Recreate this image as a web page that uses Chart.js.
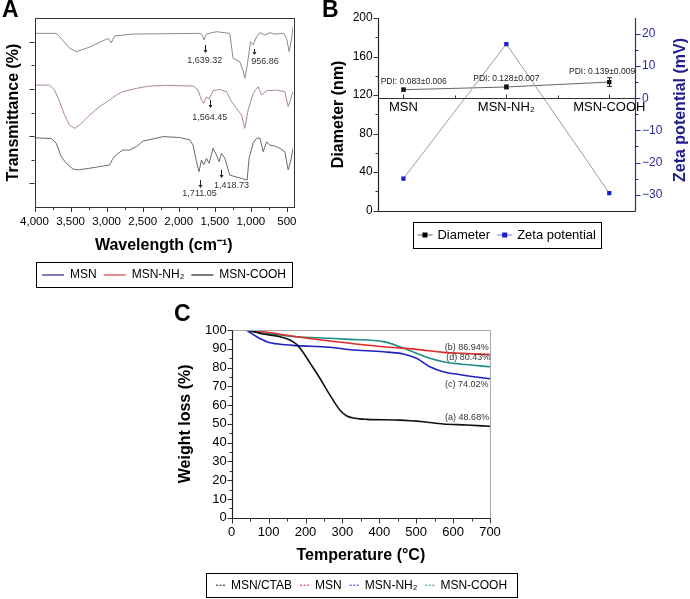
<!DOCTYPE html>
<html>
<head>
<meta charset="utf-8">
<script src="https://cdn.jsdelivr.net/npm/chart.js@4.4.1/dist/chart.umd.min.js"></script>
<style>
  html, body { margin: 0; padding: 0; background: #fff; }
  body { width: 690px; height: 599px; position: relative; overflow: hidden; font-family: "Liberation Sans", Arial, sans-serif; }
  canvas { position: absolute; }
  .tag { position: absolute; font: bold 23px "Liberation Sans", Arial, sans-serif; line-height: 1; }
</style>
</head>
<body>
<canvas id="chartA" width="310" height="300" style="left:0;top:0"></canvas>
<canvas id="chartB" width="370" height="300" style="left:320px;top:0"></canvas>
<canvas id="chartC" width="400" height="299" style="left:150px;top:300px"></canvas>
<div class="tag" style="left:2px;top:-2px">A</div>
<div class="tag" style="left:322px;top:-2px">B</div>
<div class="tag" style="left:174px;top:302px">C</div>
<script>
// Panel A : spectres IR (nombre d'onde / transmittance, unités arbitraires)
const msnWave = [4000, 3694, 3611, 3514, 3421, 3236, 3004, 2972, 2935, 2889, 2639, 1708, 1674, 1649, 1618, 1476, 1292, 1246, 1153, 1111, 1083, 1049, 1004, 968, 921, 875, 806, 736, 667, 542, 504, 468, 437, 416];
const msnT = [73.5, 73.5, 70.7, 67.3, 65.7, 67.7, 71.0, 71.3, 69.5, 72.4, 73.2, 73.5, 72.8, 70.7, 73.2, 74.2, 73.5, 62.9, 61.5, 58.0, 54.5, 60.1, 70.0, 68.6, 72.0, 73.8, 72.8, 73.8, 73.2, 73.5, 71.4, 65.7, 70.7, 76.3];
const nh2Wave = [4000, 3792, 3722, 3653, 3583, 3514, 3444, 3375, 3236, 3097, 2958, 2865, 2774, 2588, 2403, 2171, 1801, 1732, 1685, 1653, 1615, 1579, 1524, 1431, 1337, 1268, 1199, 1129, 1083, 1037, 968, 899, 851, 782, 643, 528, 482, 451, 416];
const nh2T = [51.6, 51.6, 49.5, 44.6, 38.9, 34.7, 33.3, 34.7, 38.9, 42.5, 45.3, 47.4, 48.8, 50.2, 51.2, 51.5, 51.2, 49.5, 45.3, 43.9, 46.7, 45.6, 49.2, 49.8, 48.8, 44.6, 41.8, 38.9, 33.3, 41.1, 48.1, 50.9, 47.4, 49.2, 49.5, 48.8, 42.5, 45.3, 48.8];
const coohWave = [4000, 3768, 3699, 3629, 3560, 3468, 3399, 3236, 3097, 2958, 2913, 2843, 2774, 2681, 2588, 2496, 2357, 2218, 1986, 1847, 1801, 1754, 1718, 1685, 1653, 1615, 1579, 1524, 1476, 1440, 1407, 1361, 1292, 1129, 1051, 1024, 968, 921, 875, 829, 782, 736, 667, 597, 528, 482, 444, 416];
const coohT = [29.3, 29.0, 27.0, 21.3, 18.5, 16.1, 15.7, 16.4, 17.1, 17.8, 20.6, 22.7, 24.1, 24.1, 25.5, 27.9, 28.8, 29.8, 29.4, 28.4, 26.2, 19.2, 14.9, 19.9, 17.8, 20.6, 18.5, 24.8, 22.0, 19.2, 22.7, 20.7, 13.5, 12.1, 11.4, 20.6, 27.0, 29.1, 29.2, 23.4, 27.6, 26.2, 25.8, 24.8, 23.4, 15.7, 19.9, 24.8];
const waveTicks = [4000, 3500, 3000, 2500, 2000, 1500, 1000, 500];
const peakLabels = ['1,639.32', '956.86', '1,564.45', '1,711.05', '1,418.73'];
const peakWave = [1639.32, 956.86, 1564.45, 1711.05, 1418.73];

// Panel B : diamètre et potentiel zêta
const bCategories = ['MSN', 'MSN-NH₂', 'MSN-COOH'];
const diameterNm = [125.6, 128.4, 133.5];
const diameterErr = [1.5, 2, 4.5];
const zetaMv = [-25.0, 16.9, -29.5];
const zetaTicks = [-30, -20, -10, 0, 10, 20];
const pdiLabels = ['PDI: 0.083±0.006', 'PDI: 0.128±0.007', 'PDI: 0.139±0.009'];

// Panel C : ATG
const ctabTemp = [40, 86, 131, 158, 176, 192, 207, 239, 266, 293, 312, 334, 366, 456, 519, 573, 637, 700];
const ctabWeight = [100, 97.9, 96.4, 94.7, 92.3, 88.5, 84.0, 74.3, 65.4, 57.4, 54.2, 53.0, 52.4, 52.0, 51.1, 49.9, 49.4, 48.7];
const msnTemp = [40, 86, 131, 176, 221, 266, 321, 411, 501, 573, 619, 700];
const msnWeight = [100, 99.1, 97.7, 96.4, 95.2, 94.1, 92.9, 91.1, 89.7, 88.1, 87.6, 86.9];
const nh2Temp = [40, 68, 95, 131, 176, 266, 321, 411, 465, 501, 537, 573, 619, 700];
const nh2Weight = [100, 96.4, 93.8, 92.4, 91.7, 90.8, 89.5, 88.4, 87.2, 84.9, 80.4, 77.8, 76.2, 74.0];
const coohTemp = [40, 86, 131, 176, 266, 321, 411, 456, 501, 537, 573, 619, 700];
const coohWeight = [100, 98.2, 97.3, 96.4, 95.6, 95.0, 93.8, 91.1, 87.6, 84.9, 83.1, 81.9, 80.4];
const endLabels = ['(b) 86.94%', '(d) 80.43%', '(c) 74.02%', '(a) 48.68%'];

const FONT = '"Liberation Sans", Arial, sans-serif';
Chart.defaults.font.family = FONT;
Chart.defaults.color = '#000';

const xy = (xs, ys) => xs.map((x, i) => ({ x, y: ys[i] }));
const range = (a, b, s) => { const r = []; for (let v = a; v <= b + 1e-9; v += s) r.push(v); return r; };
const fixedTicks = vals => s => { s.ticks = vals.map(v => ({ value: v })); };

// petites graduations (len signé : négatif = vers la gauche / le haut)
function tickMarks(ctx, scale, values, edge, len, color) {
  ctx.save();
  ctx.strokeStyle = color || '#333';
  ctx.lineWidth = 1;
  ctx.beginPath();
  values.forEach(v => {
    const p = Math.round(scale.getPixelForValue(v)) + 0.5;
    if (scale.isHorizontal()) { ctx.moveTo(p, edge); ctx.lineTo(p, edge + len); }
    else { ctx.moveTo(edge, p); ctx.lineTo(edge + len, p); }
  });
  ctx.stroke();
  ctx.restore();
}

function line(ctx, x1, y1, x2, y2, color, w) {
  ctx.save();
  ctx.strokeStyle = color; ctx.lineWidth = w || 1;
  ctx.beginPath(); ctx.moveTo(x1, y1); ctx.lineTo(x2, y2); ctx.stroke();
  ctx.restore();
}

// légende encadrée
function boxLegend(ctx, box, items, st) {
  ctx.save();
  ctx.strokeStyle = '#000'; ctx.lineWidth = 1;
  ctx.strokeRect(Math.round(box.x) + 0.5, Math.round(box.y) + 0.5, Math.round(box.w), Math.round(box.h));
  ctx.font = st.font;
  ctx.textBaseline = 'middle'; ctx.textAlign = 'left';
  const cy = box.y + box.h / 2 + 0.5;
  let total = 0;
  items.forEach((it, i) => { total += (i ? st.sep : 0) + st.markW + st.gap + ctx.measureText(it.text).width; });
  let x = box.x + (box.w - total) / 2;
  items.forEach((it, i) => {
    if (i) x += st.sep;
    ctx.save();
    if (it.kind === 'line') {
      ctx.strokeStyle = it.color; ctx.lineWidth = 1.2;
      ctx.beginPath(); ctx.moveTo(x, cy); ctx.lineTo(x + st.markW, cy); ctx.stroke();
    } else if (it.kind === 'dash') {
      ctx.strokeStyle = it.color; ctx.lineWidth = 1;
      ctx.setLineDash([2, 1.5]);
      ctx.beginPath(); ctx.moveTo(x, cy); ctx.lineTo(x + st.markW, cy); ctx.stroke();
    } else {
      ctx.strokeStyle = it.color; ctx.globalAlpha = 0.6; ctx.lineWidth = 1;
      ctx.beginPath(); ctx.moveTo(x, cy); ctx.lineTo(x + st.markW, cy); ctx.stroke();
      ctx.globalAlpha = 1;
      ctx.fillStyle = it.color;
      ctx.fillRect(x + st.markW / 2 - 2.5, cy - 2.5, 5, 5);
    }
    ctx.restore();
    x += st.markW + st.gap;
    ctx.fillStyle = '#000';
    ctx.fillText(it.text, x, cy);
    x += ctx.measureText(it.text).width;
  });
  ctx.restore();
}

const hiddenGrid = { drawOnChartArea: false, color: 'transparent', tickLength: 5 };

// ---------- Panel A ----------
const decoA = {
  id: 'decoA',
  afterDraw(chart) {
    const { ctx, chartArea: a, scales: { x, y } } = chart;
    ctx.save();
    ctx.strokeStyle = '#333'; ctx.lineWidth = 1;
    ctx.strokeRect(Math.round(a.left) + 0.5, Math.round(a.top) + 0.5, Math.round(a.right - a.left), Math.round(a.bottom - a.top));
    ctx.restore();
    tickMarks(ctx, x, waveTicks, a.bottom, 5);
    tickMarks(ctx, x, range(750, 3750, 500), a.bottom, 3);
    tickMarks(ctx, y, [10, 30, 50, 70], a.left, -5);
    tickMarks(ctx, y, [20, 40, 60], a.left, -3);

    // flèches et valeurs des pics
    const marks = [
      { from: 68.6, to: 65.2, tx: 1639, ty: 62.2 },
      { from: 66.9, to: 64.3, tx: 804, ty: 61.4 },
      { from: 45.3, to: 41.9, tx: 1569, ty: 37.7 },
      { from: 11.4, to: 8.0, tx: 1711, ty: 5.8 },
      { from: 15.7, to: 12.3, tx: 1268, ty: 9.3 }
    ];
    ctx.save();
    ctx.font = '9px ' + FONT;
    ctx.textAlign = 'center'; ctx.textBaseline = 'middle';
    marks.forEach((m, i) => {
      const px = Math.round(x.getPixelForValue(peakWave[i])) + 0.5;
      const y1 = y.getPixelForValue(m.from), y2 = y.getPixelForValue(m.to);
      line(ctx, px, y1, px, y2 - 2, '#222', 1);
      ctx.fillStyle = '#222';
      ctx.beginPath(); ctx.moveTo(px - 2, y2 - 3); ctx.lineTo(px + 2, y2 - 3); ctx.lineTo(px, y2); ctx.closePath(); ctx.fill();
      ctx.fillStyle = '#333';
      ctx.fillText(peakLabels[i], x.getPixelForValue(m.tx), y.getPixelForValue(m.ty));
    });
    ctx.restore();

    boxLegend(ctx, { x: 36, y: 262, w: 256, h: 25 }, [
      { text: 'MSN', color: '#2a2a88', kind: 'line' },
      { text: 'MSN-NH₂', color: '#d04040', kind: 'line' },
      { text: 'MSN-COOH', color: '#222', kind: 'line' }
    ], { font: '12px ' + FONT, markW: 22, gap: 6, sep: 7 });
  }
};

new Chart(document.getElementById('chartA'), {
  type: 'line',
  data: {
    datasets: [
      { label: 'MSN', data: xy(msnWave, msnT), borderColor: '#8a8a96', borderWidth: 1 },
      { label: 'MSN-NH₂', data: xy(nh2Wave, nh2T), borderColor: '#b08888', borderWidth: 1 },
      { label: 'MSN-COOH', data: xy(coohWave, coohT), borderColor: '#6a6a6a', borderWidth: 1 }
    ]
  },
  options: {
    responsive: false, animation: false, devicePixelRatio: 1,
    layout: { padding: { top: 18, right: 17, left: 0, bottom: 40.4 } },
    elements: { point: { radius: 0 }, line: { tension: 0 } },
    plugins: { legend: { display: false }, tooltip: { enabled: false } },
    scales: {
      x: {
        type: 'linear', reverse: true, min: 415, max: 4000,
        afterBuildTicks: fixedTicks(waveTicks),
        afterFit: s => { s.height = 52.6; },
        grid: hiddenGrid, border: { display: false },
        ticks: { autoSkip: false, maxRotation: 0, padding: 3, font: { size: 11.5 }, color: '#000', callback: v => v.toLocaleString('en-US') },
        title: { display: true, text: 'Wavelength (cm⁻¹)', font: { size: 16, weight: 'bold' } }
      },
      y: {
        min: 0, max: 80,
        afterFit: s => { s.width = 34.5; },
        grid: { display: false }, border: { display: false },
        ticks: { display: false },
        title: { display: true, text: 'Transmittance (%)', font: { size: 16, weight: 'bold' } }
      }
    }
  },
  plugins: [decoA]
});

// ---------- Panel B ----------
const decoB = {
  id: 'decoB',
  afterDraw(chart) {
    const { ctx, chartArea: a, scales } = chart;
    const x = scales.x, yD = scales.yD, yZ = scales.y;
    const L = Math.round(a.left) + 0.5, R = Math.round(a.right) + 0.5, B = Math.round(a.bottom) + 0.5;
    line(ctx, L, a.top, L, B, '#222', 1.2);
    line(ctx, L, B, R, B, '#222', 1.2);
    line(ctx, R, a.top, R, B, '#2a2a9a', 1.2);
    const z0 = Math.round(yZ.getPixelForValue(0)) + 0.5;
    line(ctx, L, z0, R, z0, '#333', 1.2);
    tickMarks(ctx, x, [0, 1, 2], z0, -4);
    tickMarks(ctx, x, [0.5, 1.5], z0, -3);
    tickMarks(ctx, yD, range(0, 200, 40), L, -5);
    tickMarks(ctx, yD, range(20, 180, 40), L, -3);
    tickMarks(ctx, yZ, zetaTicks, R, 5, '#2a2a9a');
    tickMarks(ctx, yZ, range(-25, 15, 10), R, 3, '#2a2a9a');

    // barres d'erreur du diamètre
    ctx.save();
    ctx.strokeStyle = '#222'; ctx.lineWidth = 1;
    diameterNm.forEach((d, i) => {
      const px = Math.round(x.getPixelForValue(i)) + 0.5;
      const t = yD.getPixelForValue(d + diameterErr[i]), b = yD.getPixelForValue(d - diameterErr[i]);
      ctx.beginPath();
      ctx.moveTo(px, t); ctx.lineTo(px, b);
      ctx.moveTo(px - 2.5, t); ctx.lineTo(px + 2.5, t);
      ctx.moveTo(px - 2.5, b); ctx.lineTo(px + 2.5, b);
      ctx.stroke();
    });
    ctx.restore();

    // PDI
    const pdiPos = [{ x: 0.1, y: 134 }, { x: 1.0, y: 136.8 }, { x: 1.93, y: 144.4 }];
    ctx.save();
    ctx.font = '8.5px ' + FONT; ctx.fillStyle = '#222';
    ctx.textAlign = 'center'; ctx.textBaseline = 'middle';
    pdiLabels.forEach((t, i) => ctx.fillText(t, x.getPixelForValue(pdiPos[i].x), yD.getPixelForValue(pdiPos[i].y)));
    ctx.restore();

    // titre de l'axe de droite
    ctx.save();
    ctx.translate(a.right + 46, 110);
    ctx.rotate(-Math.PI / 2);
    ctx.font = 'bold 16px ' + FONT; ctx.fillStyle = '#1e1e8c';
    ctx.textAlign = 'center'; ctx.textBaseline = 'middle';
    ctx.fillText('Zeta potential (mV)', 0, 0);
    ctx.restore();

    boxLegend(ctx, { x: 92.7, y: 221.7, w: 188, h: 25.6 }, [
      { text: 'Diameter', color: '#000', kind: 'square' },
      { text: 'Zeta potential', color: '#1a1ad0', kind: 'square' }
    ], { font: '13px ' + FONT, markW: 15, gap: 5, sep: 7 });
  }
};

new Chart(document.getElementById('chartB'), {
  type: 'line',
  data: {
    datasets: [
      {
        label: 'Zeta potential', yAxisID: 'y', data: zetaMv.map((v, i) => ({ x: i, y: v })),
        borderColor: '#9c9c9c', borderWidth: 1, pointStyle: 'rect', pointRadius: 3,
        pointBackgroundColor: '#1a1ad0', pointBorderColor: '#1a1ad0', pointBorderWidth: 0
      },
      {
        label: 'Diameter', yAxisID: 'yD', data: diameterNm.map((v, i) => ({ x: i, y: v })),
        borderColor: '#666', borderWidth: 1, pointStyle: 'rect', pointRadius: 3,
        pointBackgroundColor: '#000', pointBorderColor: '#000', pointBorderWidth: 0
      }
    ]
  },
  options: {
    responsive: false, animation: false, devicePixelRatio: 1,
    layout: { padding: { top: 18, right: 0, left: 5, bottom: 89.3 } },
    elements: { line: { tension: 0 } },
    plugins: { legend: { display: false }, tooltip: { enabled: false } },
    scales: {
      x: {
        type: 'linear', position: { y: 0 }, min: -0.25, max: 2.25,
        afterBuildTicks: fixedTicks([0, 1, 2]),
        grid: { display: false, drawTicks: false }, border: { display: false },
        ticks: { autoSkip: false, maxRotation: 0, padding: 1, font: { size: 13 }, color: '#000', callback: v => bCategories[v] ?? '' }
      },
      yD: {
        position: 'left', min: 0, max: 200,
        afterFit: s => { s.width = 52.7; },
        grid: { drawOnChartArea: false, color: 'transparent', tickLength: 4 }, border: { display: false },
        ticks: { stepSize: 40, padding: 1, font: { size: 12 }, color: '#000' },
        title: { display: true, text: 'Diameter (nm)', font: { size: 16, weight: 'bold' } }
      },
      y: {
        position: 'right', min: -35, max: 25,
        afterBuildTicks: fixedTicks(zetaTicks),
        afterFit: s => { s.width = 55; },
        grid: hiddenGrid, border: { display: false },
        ticks: { padding: 2, font: { size: 12 }, color: '#2a2a9a', callback: v => String(v).replace('-', '−') }
      }
    }
  },
  plugins: [decoB]
});

// ---------- Panel C ----------
const decoC = {
  id: 'decoC',
  afterDraw(chart) {
    const { ctx, chartArea: a, scales: { x, y } } = chart;
    const L = Math.round(a.left) + 0.5, R = Math.round(a.right) + 0.5, T = Math.round(a.top) + 0.5, B = Math.round(a.bottom) + 0.5;
    line(ctx, L, T, R, T, '#aaa', 1);
    line(ctx, R, T, R, B, '#aaa', 1);
    line(ctx, L, T, L, B, '#222', 1.2);
    line(ctx, L, B, R, B, '#222', 1.2);
    tickMarks(ctx, x, range(0, 700, 100), B, 5);
    tickMarks(ctx, x, range(50, 650, 100), B, 3);
    tickMarks(ctx, y, range(0, 100, 10), L, -5);
    tickMarks(ctx, y, range(5, 95, 10), L, -3);

    const labelPos = [{ x: 637, y: 90.8 }, { x: 641, y: 85.2 }, { x: 637, y: 71.2 }, { x: 638, y: 53.5 }];
    ctx.save();
    ctx.font = '9px ' + FONT; ctx.fillStyle = '#333';
    ctx.textAlign = 'center'; ctx.textBaseline = 'middle';
    endLabels.forEach((t, i) => ctx.fillText(t, x.getPixelForValue(labelPos[i].x), y.getPixelForValue(labelPos[i].y)));
    ctx.restore();

    boxLegend(ctx, { x: 56, y: 272.7, w: 311, h: 24 },
      chart.data.datasets.map(d => ({ text: d.label, color: d.borderColor, kind: 'dash' })),
      { font: '12px ' + FONT, markW: 10, gap: 5, sep: 8 });
  }
};

new Chart(document.getElementById('chartC'), {
  type: 'line',
  data: {
    datasets: [
      { label: 'MSN/CTAB', data: xy(ctabTemp, ctabWeight), borderColor: '#111' },
      { label: 'MSN', data: xy(msnTemp, msnWeight), borderColor: '#e02a2a' },
      { label: 'MSN-NH₂', data: xy(nh2Temp, nh2Weight), borderColor: '#2020c0' },
      { label: 'MSN-COOH', data: xy(coohTemp, coohWeight), borderColor: '#1f8f86' }
    ]
  },
  options: {
    responsive: false, animation: false, devicePixelRatio: 1,
    layout: { padding: { top: 30, right: 60, left: 22.4, bottom: 29.4 } },
    elements: { point: { radius: 0 }, line: { borderWidth: 1.6, tension: 0.4, cubicInterpolationMode: 'monotone' } },
    plugins: { legend: { display: false }, tooltip: { enabled: false } },
    scales: {
      x: {
        type: 'linear', min: 0, max: 700,
        afterFit: s => { s.height = 51.9; },
        grid: hiddenGrid, border: { display: false },
        ticks: { stepSize: 100, autoSkip: false, maxRotation: 0, padding: 1.5, font: { size: 13 }, color: '#000' },
        title: { display: true, text: 'Temperature (°C)', font: { size: 16, weight: 'bold' } }
      },
      y: {
        min: 0, max: 100,
        afterFit: s => { s.width = 59.3; },
        grid: { drawOnChartArea: false, color: 'transparent', tickLength: 4 }, border: { display: false },
        ticks: { stepSize: 10, padding: 1, font: { size: 13 }, color: '#000' },
        title: { display: true, text: 'Weight loss (%)', font: { size: 16, weight: 'bold' } }
      }
    }
  },
  plugins: [decoC]
});
</script>
</body>
</html>
